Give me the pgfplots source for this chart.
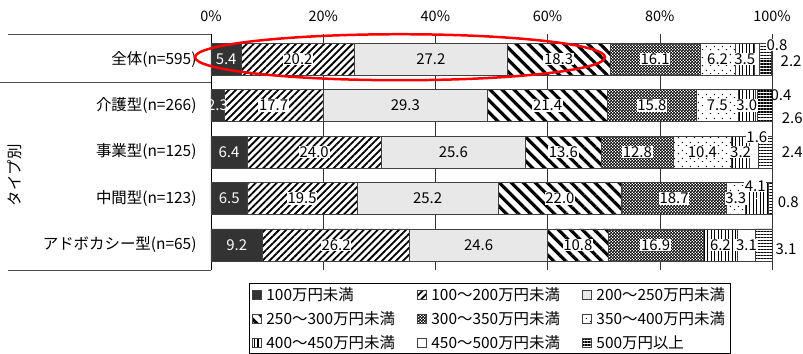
\documentclass[border=0pt]{standalone}
\usepackage{fontspec}
\setmainfont{Noto Sans CJK JP}
\usepackage{pgfplots}
\pgfplotsset{compat=1.18}
\usepackage{pgfplotstable}
\usetikzlibrary{patterns,patterns.meta}

\pgfdeclarepatternformonly{checker}{\pgfpointorigin}{\pgfpoint{3pt}{3pt}}{\pgfpoint{3pt}{3pt}}{%
 \pgfpathrectangle{\pgfpointorigin}{\pgfpoint{1.6pt}{1.6pt}}%
 \pgfpathrectangle{\pgfpoint{1.5pt}{1.5pt}}{\pgfpoint{1.6pt}{1.6pt}}%
 \pgfusepath{fill}}
\pgfdeclarepatternformonly{sparsedots}{\pgfpointorigin}{\pgfpoint{8pt}{8pt}}{\pgfpoint{8pt}{8pt}}{%
 \pgfpathrectangle{\pgfpoint{1pt}{1pt}}{\pgfpoint{1.2pt}{0.8pt}}%
 \pgfpathrectangle{\pgfpoint{5pt}{4pt}}{\pgfpoint{0.8pt}{1.2pt}}%
 \pgfusepath{fill}}

\pgfplotstableread{
y v1  l1  v2   l2   v3   l3   v4   l4   v5   l5   v6   l6   v7  l7  v8  l8  v9
0 5.4 5.4 20.2 20.2 27.2 27.2 18.3 18.3 16.1 16.1 6.2  6.2  3.5 3.5 0.8 {}  2.2
1 2.3 2.3 17.7 17.7 29.3 29.3 21.4 21.4 15.8 15.8 7.5  7.5  3.0 3.0 0.4 {}  2.6
2 6.4 6.4 24.0 24.0 25.6 25.6 13.6 13.6 12.8 12.8 10.4 10.4 3.2 3.2 1.6 {}  2.4
3 6.5 6.5 19.5 19.5 25.2 25.2 22.0 22.0 18.7 18.7 3.3  3.3  4.1 {}  0.0 {}  0.8
4 9.2 9.2 26.2 26.2 24.6 24.6 10.8 10.8 16.9 16.9 0.0  {}   6.2 6.2 3.1 3.1 3.1
}\data

\tikzset{
 bstyle/.style={draw=black!75, line width=0.6pt},
 outlbl/.style={font=\fontsize{15}{15}\selectfont, inner sep=0.5pt},
}

\begin{document}
\begin{tikzpicture}
\begin{axis}[
 scale only axis, width=561bp, height=236bp,
 xmin=0, xmax=100, ymin=-0.54, ymax=4.54, y dir=reverse,
 xbar stacked, bar width=32bp,
 xtick={0,20,...,100}, xticklabel={\pgfmathprintnumber{\tick}\%}, xticklabel pos=upper,
 ytick={0,1,2,3,4},
 yticklabels={全体(n=595),介護型(n=266),事業型(n=125),中間型(n=123),アドボカシー型(n=65)},
 /pgf/number format/assume math mode=true,
 x tick label style={font=\fontsize{14.5}{14.5}\selectfont, anchor=base, yshift=13bp},
 y tick label style={font=\fontsize{15.5}{15.5}\selectfont, xshift=-11bp},
 major tick length=0pt,
 axis line style={draw=none},
 xmajorgrids, grid style={black!80, line width=0.6pt},
 clip=false,
 every node near coord/.append style={font=\fontsize{15}{15}\selectfont, fill=white, inner sep=0.8pt, text=black},
 point meta=explicit symbolic,
 legend columns=3,
 legend cell align=left,
 legend style={at={(0.4965,-0.055)}, anchor=north, draw=black, line width=0.8pt,
   font=\fontsize{15.5}{15.5}\selectfont, inner xsep=3bp, inner ysep=2bp, row sep=5.5bp,
   /tikz/every odd column/.append style={column sep=3bp},
   /tikz/every even column/.append style={column sep=20bp}},
 legend image code/.code={\draw[#1, line width=0.4pt] (0bp,-4.5bp) rectangle (9bp,4.5bp);},
]
\addplot[bstyle, fill=black!80, nodes near coords,
  every node near coord/.append style={fill=none, text=white}] table[x=v1, y=y, meta=l1] {\data};
\addlegendentry{100万円未満}
\addplot[bstyle, fill=white, postaction={pattern={Lines[angle=45,distance=5pt,line width=1.8pt]}}, nodes near coords] table[x=v2, y=y, meta=l2] {\data};
\addlegendentry{100～200万円未満}
\addplot[bstyle, fill=black!9, nodes near coords, every node near coord/.append style={fill=none}] table[x=v3, y=y, meta=l3] {\data};
\addlegendentry{200～250万円未満}
\addplot[bstyle, fill=white, postaction={pattern={Lines[angle=-45,distance=8.5pt,line width=3.2pt]}}, nodes near coords] table[x=v4, y=y, meta=l4] {\data};
\addlegendentry{250～300万円未満}
\addplot[bstyle, fill=white, postaction={pattern=checker}, nodes near coords] table[x=v5, y=y, meta=l5] {\data};
\addlegendentry{300～350万円未満}
\addplot[bstyle, fill=white, postaction={pattern=sparsedots}, nodes near coords] table[x=v6, y=y, meta=l6] {\data};
\addlegendentry{350～400万円未満}
\addplot[bstyle, fill=white, postaction={pattern={Lines[angle=90,distance=3.5pt,line width=1.2pt]}}, nodes near coords] table[x=v7, y=y, meta=l7] {\data};
\addlegendentry{400～450万円未満}
\addplot[bstyle, fill=white, nodes near coords] table[x=v8, y=y, meta=l8] {\data};
\addlegendentry{450～500万円未満}
\addplot[bstyle, fill=white, postaction={pattern={Lines[angle=0,distance=3pt,line width=1.2pt]}}] table[x=v9, y=y, meta=l8] {\data};
\addlegendentry{500万円以上}

% frame lines of the left table
\draw[black, line width=0.8pt] (axis cs:0,-0.54) -- (axis cs:0,4.54);
\draw[black!70, line width=1pt] (axis cs:-36.2,-0.54) -- (axis cs:0,-0.54);
\draw[black!70, line width=1pt] (axis cs:-37.6,0.495) -- (axis cs:0,0.495);
\draw[black!70, line width=1pt] (axis cs:-36.2,4.54) -- (axis cs:0,4.54);
\node[rotate=90, font=\fontsize{15.5}{15.5}\selectfont] at (axis cs:-34.9,2.5) {タイプ別};

% anchor points for labels of small segments
\coordinate (a1) at (axis cs:100.9,-0.30);
\coordinate (a2) at (axis cs:103.4,0.04);
\coordinate (a3) at (axis cs:101.6,0.77);
\coordinate (a4) at (axis cs:103.6,1.27);
\coordinate (a5) at (axis cs:97.3,1.68);
\coordinate (a6) at (axis cs:103.6,2.0);
\coordinate (a7) at (axis cs:97.0,2.73);
\coordinate (a8) at (axis cs:102.9,3.08);
\coordinate (a9) at (axis cs:102.5,4.1);
\coordinate (ec) at (axis cs:33.7,-0.04);
\coordinate (bl) at (axis cs:0,4.54);
\coordinate (tr) at (axis cs:100,-0.54);
\end{axis}
\node[outlbl, fill=white] at (a1) {0.8};
\node[outlbl] at (a2) {2.2};
\node[outlbl] at (a3) {0.4};
\node[outlbl] at (a4) {2.6};
\node[outlbl, fill=white] at (a5) {1.6};
\node[outlbl] at (a6) {2.4};
\node[outlbl, fill=white] at (a7) {4.1};
\node[outlbl] at (a8) {0.8};
\node[outlbl] at (a9) {3.1};
\draw[red, line width=2.5pt] (ec) ellipse [x radius=205bp, y radius=23bp];
\pgfresetboundingbox
\path[use as bounding box] ([xshift=-211bp, yshift=-84bp]bl) rectangle ([xshift=31bp, yshift=34bp]tr);
\end{tikzpicture}
\end{document}
